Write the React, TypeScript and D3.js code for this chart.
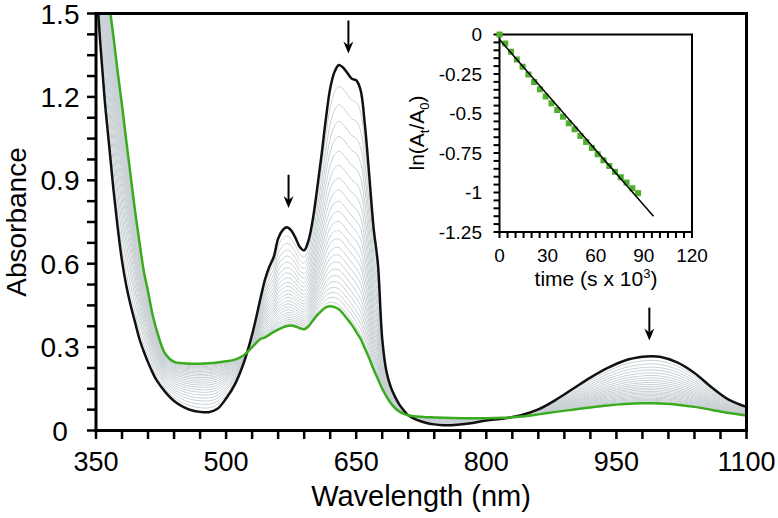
import { useEffect, useRef } from "react";
import * as d3 from "d3";

// spectra (nm, absorbance)
const wavelengths = [
  345, 350, 355, 360, 365, 370, 375, 380, 385, 390, 395, 400, 405, 410, 415, 420, 430, 440, 450, 460,
  470, 480, 490, 500, 510, 520, 530, 540, 545, 550, 555, 560, 565, 570, 575, 580, 585, 590, 595, 600,
  605, 610, 615, 620, 625, 630, 635, 640, 645, 650, 655, 660, 665, 670, 675, 680, 685, 690, 695, 700,
  705, 710, 720, 730, 740, 750, 760, 780, 800, 820, 840, 860, 880, 900, 920, 940, 960, 980, 990, 1000,
  1020, 1040, 1060, 1080, 1100,
];
const absStart = [
  1.85, 1.62, 1.39, 1.19, 1.03, 0.87, 0.73, 0.61, 0.52, 0.45, 0.39, 0.33, 0.285, 0.245, 0.21, 0.18, 0.138, 0.106, 0.086, 0.073,
  0.067, 0.066, 0.078, 0.115, 0.165, 0.24, 0.345, 0.48, 0.545, 0.59, 0.625, 0.69, 0.72, 0.731, 0.72, 0.693, 0.66, 0.648, 0.683, 0.76,
  0.87, 0.99, 1.12, 1.23, 1.29, 1.315, 1.305, 1.285, 1.265, 1.26, 1.225, 1.1, 0.92, 0.73, 0.6, 0.33, 0.21, 0.155, 0.12, 0.092,
  0.072, 0.055, 0.038, 0.028, 0.022, 0.019, 0.019, 0.025, 0.036, 0.043, 0.055, 0.076, 0.11, 0.15, 0.19, 0.225, 0.252, 0.265, 0.267, 0.265,
  0.245, 0.207, 0.155, 0.11, 0.085,
];
const absEnd = [
  2.05, 1.92, 1.79, 1.67, 1.54, 1.42, 1.29, 1.17, 1.04, 0.915, 0.79, 0.68, 0.575, 0.5, 0.42, 0.36, 0.275, 0.247, 0.242, 0.24,
  0.24, 0.242, 0.245, 0.249, 0.255, 0.27, 0.3, 0.33, 0.335, 0.345, 0.355, 0.363, 0.37, 0.376, 0.378, 0.374, 0.368, 0.364, 0.375, 0.395,
  0.415, 0.43, 0.443, 0.447, 0.444, 0.436, 0.42, 0.4, 0.38, 0.355, 0.33, 0.295, 0.26, 0.22, 0.185, 0.15, 0.122, 0.098, 0.08, 0.068,
  0.06, 0.055, 0.05, 0.048, 0.047, 0.046, 0.045, 0.044, 0.044, 0.046, 0.05, 0.058, 0.067, 0.075, 0.083, 0.09, 0.095, 0.098, 0.098, 0.097,
  0.093, 0.085, 0.074, 0.063, 0.054,
];

// kinetics (inset): time in s x 10^3, ln(At/A0)
const kinTime = [
  0, 3.6, 7.2, 10.8, 14.4, 18, 21.6, 25.2, 28.8, 32.4, 36, 39.6, 43.2, 46.8, 50.4, 54, 57.6, 61.2, 64.8, 68.4,
  72, 75.6, 79.2, 82.8, 86.4,
];
const kinLn = [
  0, -0.057, -0.109, -0.158, -0.204, -0.253, -0.301, -0.347, -0.392, -0.436, -0.478, -0.52, -0.562, -0.6, -0.642,
  -0.68, -0.718, -0.758, -0.796, -0.832, -0.869, -0.903, -0.937, -0.973, -1.004,
];
const fitTime = [0, 96];
const fitLn = [-0.032, -1.151];

// arrows (wavelength, absorbance of tail and tip)
const arrowWl = [572, 641, 988];
const arrowFrom = [0.92, 1.475, 0.442];
const arrowTo = [0.8, 1.356, 0.324];

const xTickLabels = [350, 500, 650, 800, 950, 1100];
const yTickLabels = [0, 0.3, 0.6, 0.9, 1.2, 1.5];
const insetXTicks = [0, 30, 60, 90, 120];
const insetYTicks = [0, -0.25, -0.5, -0.75, -1, -1.25];

const FONT = "'Liberation Sans', Arial, sans-serif";

const App = () => {
  const ref = useRef<SVGSVGElement>(null);

  useEffect(() => {
    if (!ref.current) return;
    const svg = d3.select(ref.current);
    svg.selectAll("*").remove();

    const x = d3.scaleLinear().domain([350, 1100]).range([96, 746.5]);
    const y = d3.scaleLinear().domain([0, 1.5]).range([430.5, 13.5]);

    svg
      .append("defs")
      .append("clipPath")
      .attr("id", "plot-clip")
      .append("rect")
      .attr("x", 96)
      .attr("y", 13.5)
      .attr("width", 650.5)
      .attr("height", 417);

    const line = d3
      .line<number>()
      .x((_d, i) => x(wavelengths[i]))
      .y((d) => y(d))
      .curve(d3.curveCatmullRom.alpha(0.5));

    const plot = svg.append("g").attr("clip-path", "url(#plot-clip)");

    // intermediate spectra, weighted by the measured decay
    const rEnd = Math.exp(kinLn[kinLn.length - 1]);
    const fractions = kinLn.slice(1, -1).map((v) => (Math.exp(v) - rEnd) / (1 - rEnd));
    fractions.forEach((f) => {
      plot
        .append("path")
        .attr("d", line(absEnd.map((e, i) => e + (absStart[i] - e) * f)))
        .attr("fill", "none")
        .attr("stroke", "#c8d0d4")
        .attr("stroke-width", 1);
    });

    plot
      .append("path")
      .attr("d", line(absStart))
      .attr("fill", "none")
      .attr("stroke", "#111")
      .attr("stroke-width", 2.5);
    plot
      .append("path")
      .attr("d", line(absEnd))
      .attr("fill", "none")
      .attr("stroke", "#3aab1f")
      .attr("stroke-width", 2.5);

    // frame
    svg
      .append("rect")
      .attr("x", 96)
      .attr("y", 13.5)
      .attr("width", 650.5)
      .attr("height", 417)
      .attr("fill", "none")
      .attr("stroke", "#000")
      .attr("stroke-width", 3);

    // main ticks
    const xTicks = d3.range(350, 1101, 30);
    svg
      .append("g")
      .selectAll("line")
      .data(xTicks)
      .enter()
      .append("line")
      .attr("x1", (d) => x(d))
      .attr("x2", (d) => x(d))
      .attr("y1", 430.5)
      .attr("y2", 439)
      .attr("stroke", "#000")
      .attr("stroke-width", 2.5);
    const yTicks = d3.range(0, 21).map((i) => i * 0.075);
    svg
      .append("g")
      .selectAll("line")
      .data(yTicks)
      .enter()
      .append("line")
      .attr("x1", 87)
      .attr("x2", 96)
      .attr("y1", (d) => y(d))
      .attr("y2", (d) => y(d))
      .attr("stroke", "#000")
      .attr("stroke-width", 2.5);

    svg
      .append("g")
      .selectAll("text")
      .data(xTickLabels)
      .enter()
      .append("text")
      .attr("x", (d) => x(d))
      .attr("y", 471)
      .attr("text-anchor", "middle")
      .attr("font-family", FONT)
      .attr("font-size", 27)
      .text((d) => String(d));
    svg
      .append("g")
      .selectAll("text")
      .data(yTickLabels)
      .enter()
      .append("text")
      .attr("x", 60)
      .attr("y", (d) => y(d) + 10)
      .attr("text-anchor", "middle")
      .attr("font-family", FONT)
      .attr("font-size", 28)
      .text((d) => String(d));

    svg
      .append("text")
      .attr("x", 421)
      .attr("y", 506)
      .attr("text-anchor", "middle")
      .attr("font-family", FONT)
      .attr("font-size", 29)
      .text("Wavelength (nm)");
    svg
      .append("text")
      .attr("transform", "translate(26,222) rotate(-90)")
      .attr("text-anchor", "middle")
      .attr("font-family", FONT)
      .attr("font-size", 28)
      .text("Absorbance");

    // arrows
    arrowWl.forEach((w, i) => {
      const ax = x(w);
      const y0 = y(arrowFrom[i]);
      const y1 = y(arrowTo[i]);
      svg
        .append("line")
        .attr("x1", ax)
        .attr("x2", ax)
        .attr("y1", y0)
        .attr("y2", y1 - 8)
        .attr("stroke", "#000")
        .attr("stroke-width", 2);
      svg
        .append("path")
        .attr("d", `M${ax - 5},${y1 - 12} L${ax},${y1 - 8} L${ax + 5},${y1 - 12} L${ax},${y1} Z`)
        .attr("fill", "#000");
    });

    // inset
    const ix = d3.scaleLinear().domain([0, 120]).range([499.5, 692]);
    const iy = d3.scaleLinear().domain([-1.25, 0]).range([232, 34.5]);
    const inset = svg.append("g");
    inset
      .append("rect")
      .attr("x", 499.5)
      .attr("y", 34.5)
      .attr("width", 192.5)
      .attr("height", 197.5)
      .attr("fill", "#fff")
      .attr("stroke", "#000")
      .attr("stroke-width", 2);

    inset
      .append("g")
      .selectAll("line")
      .data(d3.range(0, 25).map((i) => i * 5))
      .enter()
      .append("line")
      .attr("x1", (d) => ix(d))
      .attr("x2", (d) => ix(d))
      .attr("y1", 232)
      .attr("y2", 238)
      .attr("stroke", "#000")
      .attr("stroke-width", 2);
    inset
      .append("g")
      .selectAll("line")
      .data(d3.range(0, 26).map((i) => -i * 0.05))
      .enter()
      .append("line")
      .attr("x1", 493.5)
      .attr("x2", 499.5)
      .attr("y1", (d) => iy(d))
      .attr("y2", (d) => iy(d))
      .attr("stroke", "#000")
      .attr("stroke-width", 2);

    inset
      .append("g")
      .selectAll("text")
      .data(insetXTicks)
      .enter()
      .append("text")
      .attr("x", (d) => ix(d))
      .attr("y", 262)
      .attr("text-anchor", "middle")
      .attr("font-family", FONT)
      .attr("font-size", 19)
      .text((d) => String(d));
    inset
      .append("g")
      .selectAll("text")
      .data(insetYTicks)
      .enter()
      .append("text")
      .attr("x", 482)
      .attr("y", (d) => iy(d) + 6.5)
      .attr("text-anchor", "end")
      .attr("font-family", FONT)
      .attr("font-size", 19)
      .text((d) => String(d));

    const xt = inset
      .append("text")
      .attr("x", 596)
      .attr("y", 286)
      .attr("text-anchor", "middle")
      .attr("font-family", FONT)
      .attr("font-size", 21);
    xt.append("tspan").text("time (s x 10");
    xt.append("tspan").attr("font-size", 13).attr("dy", -8).text("3");
    xt.append("tspan").attr("dy", 8).text(")");

    const yt = inset
      .append("text")
      .attr("transform", "translate(424,133) rotate(-90)")
      .attr("text-anchor", "middle")
      .attr("font-family", FONT)
      .attr("font-size", 21);
    yt.append("tspan").text("ln(A");
    yt.append("tspan").attr("font-size", 13).attr("dy", 5).text("t");
    yt.append("tspan").attr("dy", -5).text("/A");
    yt.append("tspan").attr("font-size", 13).attr("dy", 5).text("0");
    yt.append("tspan").attr("dy", -5).text(")");

    inset
      .append("g")
      .selectAll("rect")
      .data(kinTime)
      .enter()
      .append("rect")
      .attr("x", (d) => ix(d) - 3)
      .attr("y", (_d, i) => iy(kinLn[i]) - 3)
      .attr("width", 6)
      .attr("height", 6)
      .attr("fill", "#4fae2c");

    inset
      .append("line")
      .attr("x1", ix(fitTime[0]))
      .attr("y1", iy(fitLn[0]))
      .attr("x2", ix(fitTime[1]))
      .attr("y2", iy(fitLn[1]))
      .attr("stroke", "#000")
      .attr("stroke-width", 1.5);
  }, []);

  return (
    <svg
      ref={ref}
      width={778}
      height={518}
      style={{ position: "absolute", left: 0, top: 0, background: "#fff" }}
    ></svg>
  );
};

export default App;
